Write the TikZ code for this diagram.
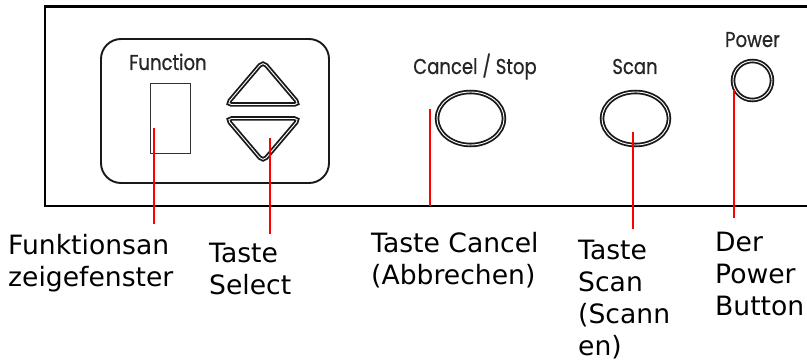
\documentclass[tikz,border=0pt]{standalone}
\usepackage{fontspec}
\setmainfont{DejaVu Sans}
\newfontfamily\panelfont[FakeStretch=0.84, FakeBold=0.6]{Poppins}
\usetikzlibrary{shapes.geometric}

\begin{document}
\begin{tikzpicture}[x=1pt, y=-1pt,
      label/.style  ={anchor=north west, inner sep=0pt, align=left, font=\fontsize{26.6}{32}\selectfont},
      caption/.style={anchor=base, inner sep=0pt, text=black!85, font=\panelfont\fontsize{21.5}{24}\selectfont},
      outline/.style={draw=black!90, line width=1.9pt},
      ring/.style   ={draw=black!90, line width=1.8pt, double=white, double distance=0.9pt, inner sep=0pt},
      pointer/.style={draw=red, line width=1.4pt}
    ]
    \useasboundingbox (0,0) rectangle (807,361);

    % Front panel, open to the right
    \draw[line width=2.2pt] (807,6.5) -- (45,6.5) -- (45,206) -- (807,206);

    % Function block: display window and select keys
    \draw[outline, rounded corners=20pt] (101,39) rectangle (329,183);
    \node[caption] (func) at (168,70) {Function};
    \draw[line width=0.9pt, draw=black!80] (150.5,83.5) rectangle (190.5,153.5);
    \draw[ring, rounded corners=5pt] (263,61.5) -- (299.5,104.5) -- (226.5,104.5) -- cycle;
    \draw[ring, rounded corners=5pt] (226.5,118.5) -- (299.5,118.5) -- (263,161.5) -- cycle;

    % Round keys
    \node[caption] (cancelcap) at (475,74) {Cancel / Stop};
    \node[ring, ellipse, minimum width=67pt, minimum height=53pt] (cancel) at (470.5,118.5) {};
    \node[caption] (scancap) at (635,74) {Scan};
    \node[ring, ellipse, minimum width=67pt, minimum height=53pt] (scan) at (635.5,118.5) {};
    \node[caption] (powercap) at (752.5,47) {Power};
    \node[ring, circle, minimum size=39pt] (power) at (752.5,80.5) {};

    % Labels under the panel
    \node[label] (lblwin)  at (8,234.5)   {Funktionsan\\zeigefenster};
    \node[label] (lblsel)  at (209,242.5) {Taste\\Select};
    \node[label] (lblcan)  at (371,232.5) {Taste Cancel\\(Abbrechen)};
    \node[label] (lblscan) at (578,239.5) {Taste\\Scan\\(Scann\\en)};
    \node[label] (lblpow)  at (715,231.5) {Der\\Power\\Button};

    % Pointer lines
    \coordinate (winpt)  at (154,128); \coordinate (winend)  at (154,224);
    \coordinate (selpt)  at (270,138); \coordinate (selend)  at (270,234);
    \coordinate (canpt)  at (430,109); \coordinate (canend)  at (430,206);
    \coordinate (scanpt) at (633,132); \coordinate (scanend) at (633,229);
    \coordinate (powpt)  at (734,90);  \coordinate (powend)  at (734,218);

    \draw[pointer] (winpt)  -- (winend);
    \draw[pointer] (selpt)  -- (selend);
    \draw[pointer] (canpt)  -- (canend);
    \draw[pointer] (scanpt) -- (scanend);
    \draw[pointer] (powpt)  -- (powend);
  \end{tikzpicture}
\end{document}
